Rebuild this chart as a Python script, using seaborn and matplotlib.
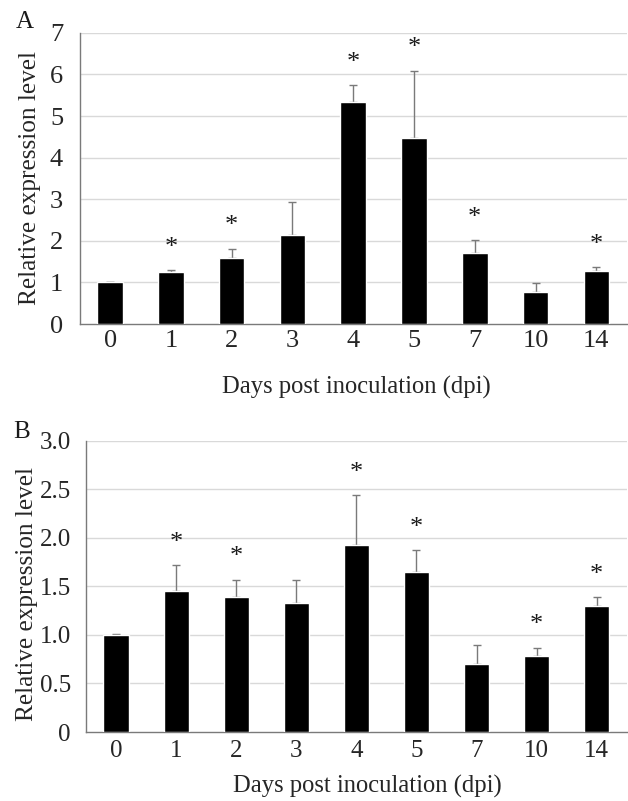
import numpy as np
import pandas as pd
import matplotlib
matplotlib.use('Agg')
import matplotlib.pyplot as plt
import seaborn as sns
from matplotlib.ticker import FixedLocator, FuncFormatter

# 数据
days = ['0', '1', '2', '3', '4', '5', '7', '10', '14']

a_mean = [1.0, 1.24, 1.59, 2.13, 5.34, 4.46, 1.70, 0.76, 1.28]
a_err = [0.01, 0.05, 0.22, 0.81, 0.41, 1.63, 0.32, 0.23, 0.09]
a_sig = [False, True, True, False, True, True, True, False, True]

b_mean = [1.0, 1.45, 1.39, 1.325, 1.93, 1.65, 0.70, 0.78, 1.30]
b_err = [0.005, 0.27, 0.18, 0.24, 0.51, 0.22, 0.20, 0.09, 0.09]
b_sig = [False, True, True, False, True, True, False, True, True]

sns.set_theme(style='white')
plt.rcParams['font.family'] = ['Liberation Serif', 'DejaVu Serif']
plt.rcParams['text.color'] = '#1a1a1a'

fig = plt.figure(figsize=(6.28, 8.01), dpi=100)
ax_a = fig.add_axes([0.127, 0.5955, 0.871, 0.3635])
ax_b = fig.add_axes([0.137, 0.0861, 0.861, 0.3637])


def draw_panel(ax, mean, err, sig, ymax, ystep, yfmt, tick_fs, xpad, ypad,
               xlab_pos, ylab_pos):
    df = pd.DataFrame({'day': days, 'value': mean, 'err': err})
    ax.set_axisbelow(True)
    for y in np.arange(ystep, ymax + 1e-9, ystep):
        ax.axhline(y, color='#d9d9d9', lw=1.0, zorder=0)
    sns.barplot(data=df, x='day', y='value', order=days, color='black',
                width=0.42, saturation=1, errorbar=None, ax=ax, zorder=3)
    x = np.arange(len(days))
    ax.errorbar(x, df['value'], yerr=[np.zeros(len(days)), df['err']],
                fmt='none', ecolor='#7a7a7a', elinewidth=1.0, capsize=3,
                capthick=1.0, zorder=2)
    for xi, m, e, s in zip(x, mean, err, sig):
        if s:
            ax.annotate('*', (xi, m + e), xytext=(0, 16), textcoords='offset points',
                        ha='center', va='center', fontsize=19)
    ax.set_xlim(-0.5, len(days) - 0.5)
    ax.set_ylim(0, ymax)
    ax.yaxis.set_major_locator(FixedLocator(np.arange(0, ymax + 1e-9, ystep)))
    ax.yaxis.set_major_formatter(FuncFormatter(yfmt))
    ax.xaxis.set_minor_locator(FixedLocator(np.arange(-0.5, len(days), 1.0)))
    ax.tick_params(axis='x', which='major', length=0, labelsize=tick_fs, pad=xpad)
    ax.tick_params(axis='x', which='minor', length=4, color='#7a7a7a', width=1)
    ax.tick_params(axis='y', which='major', length=3, color='#7a7a7a', width=1,
                   labelsize=tick_fs, pad=ypad)
    for side in ['top', 'right']:
        ax.spines[side].set_visible(False)
    for side in ['left', 'bottom']:
        ax.spines[side].set_color('#7a7a7a')
        ax.spines[side].set_linewidth(1.0)
    ax.set_xlabel('Days post inoculation (dpi)', fontsize=17.7)
    ax.xaxis.set_label_coords(*xlab_pos)
    ax.set_ylabel('Relative expression level', fontsize=18.2)
    ax.yaxis.set_label_coords(*ylab_pos)


draw_panel(ax_a, a_mean, a_err, a_sig, 7, 1, lambda v, p: f'{v:.0f}',
           tick_fs=19, xpad=4, ypad=9, xlab_pos=(0.505, -0.179),
           ylab_pos=(-0.071, 0.5))
draw_panel(ax_b, b_mean, b_err, b_sig, 3.0, 0.5,
           lambda v, p: '0' if v == 0 else f'{v:.1f}',
           tick_fs=18, xpad=6, ypad=8, xlab_pos=(0.52, -0.148),
           ylab_pos=(-0.0886, 0.474))

fig.text(0.040, 0.9725, 'A', fontsize=18, ha='center', va='center')
fig.text(0.035, 0.4607, 'B', fontsize=18, ha='center', va='center')

plt.savefig('out.png', dpi=100)
